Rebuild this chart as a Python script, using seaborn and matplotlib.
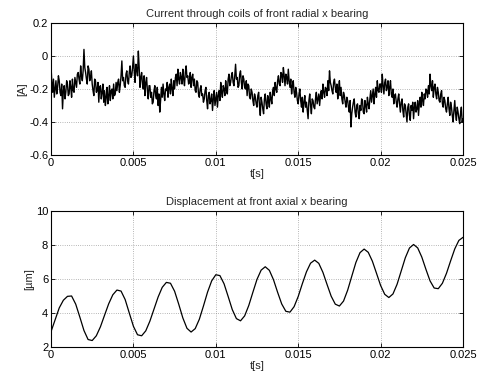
import numpy as np
import pandas as pd
import matplotlib
matplotlib.use("Agg")
import matplotlib.pyplot as plt
import seaborn as sns

# ---- data ----
t_end = 0.025
current_A = [
    -0.06, -0.16, -0.22, -0.14, -0.25, -0.20, -0.15, -0.23, -0.19, -0.12, -0.15, -0.22, -0.24, -0.17, -0.32, -0.21, -0.18, -0.26, -0.22, -0.15,
    -0.17, -0.24, -0.23, -0.15, -0.19, -0.25, -0.14, -0.21, -0.22, -0.13, -0.16, -0.19, -0.11, -0.10, -0.14, -0.17, -0.06, -0.12, -0.15, -0.09,
    0.04, -0.07, -0.10, -0.14, -0.17, -0.06, -0.08, -0.15, -0.13, -0.09, -0.17, -0.21, -0.24, -0.14, -0.15, -0.22, -0.21, -0.16, -0.28, -0.19,
    -0.18, -0.26, -0.22, -0.17, -0.28, -0.21, -0.30, -0.25, -0.19, -0.29, -0.24, -0.18, -0.27, -0.21, -0.20, -0.26, -0.17, -0.24, -0.23, -0.16,
    -0.21, -0.16, -0.14, -0.22, -0.18, -0.12, -0.03, -0.15, -0.13, -0.18, -0.19, -0.11, -0.09, -0.15, -0.17, -0.10, -0.06, -0.13, -0.12, -0.07,
    0.0, -0.09, -0.16, -0.05, -0.08, -0.12, 0.03, -0.07, -0.19, -0.13, -0.10, -0.17, -0.20, -0.12, -0.24, -0.16, -0.13, -0.21, -0.26, -0.18,
    -0.18, -0.25, -0.22, -0.29, -0.28, -0.21, -0.18, -0.24, -0.26, -0.19, -0.30, -0.23, -0.34, -0.27, -0.19, -0.25, -0.17, -0.23, -0.27, -0.20,
    -0.21, -0.16, -0.25, -0.19, -0.17, -0.23, -0.14, -0.20, -0.24, -0.15, -0.20, -0.13, -0.11, -0.18, -0.08, -0.14, -0.17, -0.10, -0.13, -0.17,
    -0.08, -0.14, -0.18, -0.10, -0.06, -0.13, -0.12, -0.17, -0.16, -0.10, -0.19, -0.13, -0.11, -0.18, -0.14, -0.21, -0.22, -0.15, -0.16, -0.23,
    -0.25, -0.20, -0.18, -0.24, -0.23, -0.28, -0.26, -0.21, -0.19, -0.27, -0.32, -0.24, -0.22, -0.29, -0.27, -0.23, -0.33, -0.26, -0.21, -0.30,
    -0.26, -0.22, -0.31, -0.24, -0.21, -0.27, -0.16, -0.22, -0.25, -0.18, -0.20, -0.24, -0.15, -0.21, -0.23, -0.14, -0.11, -0.18, -0.16, -0.12,
    -0.10, -0.16, -0.18, -0.12, -0.05, -0.14, -0.13, -0.19, -0.18, -0.11, -0.09, -0.16, -0.20, -0.12, -0.14, -0.19, -0.20, -0.15, -0.24, -0.17,
    -0.18, -0.25, -0.26, -0.20, -0.22, -0.27, -0.30, -0.23, -0.25, -0.29, -0.31, -0.24, -0.22, -0.30, -0.36, -0.25, -0.28, -0.32, -0.35, -0.26,
    -0.23, -0.29, -0.32, -0.24, -0.27, -0.31, -0.22, -0.26, -0.29, -0.21, -0.19, -0.24, -0.16, -0.20, -0.22, -0.15, -0.12, -0.17, -0.18, -0.10,
    -0.11, -0.16, -0.07, -0.12, -0.18, -0.11, -0.13, -0.17, -0.08, -0.15, -0.19, -0.14, -0.23, -0.18, -0.15, -0.22, -0.25, -0.19, -0.22, -0.27,
    -0.29, -0.23, -0.20, -0.27, -0.31, -0.25, -0.34, -0.28, -0.24, -0.31, -0.28, -0.33, -0.38, -0.27, -0.23, -0.30, -0.35, -0.26, -0.27, -0.31,
    -0.32, -0.26, -0.22, -0.29, -0.26, -0.23, -0.30, -0.24, -0.21, -0.26, -0.17, -0.22, -0.25, -0.19, -0.20, -0.24, -0.15, -0.21, -0.09, -0.16,
    -0.18, -0.21, -0.23, -0.16, -0.14, -0.19, -0.22, -0.17, -0.26, -0.20, -0.15, -0.24, -0.19, -0.26, -0.29, -0.22, -0.24, -0.28, -0.31, -0.25,
    -0.27, -0.31, -0.34, -0.27, -0.43, -0.35, -0.31, -0.28, -0.26, -0.34, -0.37, -0.30, -0.29, -0.35, -0.38, -0.30, -0.33, -0.26, -0.27, -0.34,
    -0.35, -0.27, -0.30, -0.34, -0.25, -0.29, -0.32, -0.26, -0.21, -0.28, -0.24, -0.20, -0.29, -0.23, -0.19, -0.25, -0.15, -0.21, -0.22, -0.17,
    -0.17, -0.22, -0.11, -0.18, -0.23, -0.16, -0.14, -0.21, -0.19, -0.15, -0.24, -0.19, -0.15, -0.23, -0.25, -0.20, -0.29, -0.24, -0.23, -0.28,
    -0.31, -0.26, -0.23, -0.29, -0.34, -0.28, -0.26, -0.33, -0.37, -0.29, -0.30, -0.35, -0.40, -0.31, -0.29, -0.36, -0.39, -0.30, -0.33, -0.28,
    -0.38, -0.31, -0.28, -0.34, -0.32, -0.27, -0.36, -0.29, -0.25, -0.31, -0.22, -0.27, -0.30, -0.23, -0.26, -0.20, -0.21, -0.25, -0.18, -0.23,
    -0.11, -0.18, -0.21, -0.15, -0.25, -0.19, -0.17, -0.23, -0.26, -0.19, -0.22, -0.27, -0.28, -0.23, -0.21, -0.29, -0.31, -0.25, -0.27, -0.32,
    -0.34, -0.29, -0.25, -0.32, -0.36, -0.28, -0.31, -0.36, -0.40, -0.33, -0.27, -0.35, -0.39, -0.31, -0.34, -0.38, -0.41, -0.35, -0.31, -0.40, -0.38,
]
displacement_um = [
    2.9, 3.6, 4.3, 4.75, 4.98, 5.0, 4.52, 3.76, 2.97, 2.44,
    2.38, 2.66, 3.19, 3.87, 4.54, 5.07, 5.35, 5.29, 4.79, 4.0,
    3.22, 2.72, 2.66, 2.95, 3.52, 4.23, 4.94, 5.51, 5.80, 5.75,
    5.28, 4.52, 3.71, 3.10, 2.88, 3.08, 3.63, 4.41, 5.23, 5.89,
    6.25, 6.2, 5.72, 4.97, 4.2, 3.67, 3.54, 3.83, 4.44, 5.22,
    5.98, 6.52, 6.72, 6.51, 5.96, 5.22, 4.53, 4.10, 4.05, 4.37,
    4.97, 5.72, 6.42, 6.93, 7.11, 6.92, 6.39, 5.68, 4.99, 4.52,
    4.41, 4.70, 5.34, 6.16, 6.97, 7.55, 7.76, 7.57, 7.05, 6.34,
    5.62, 5.10, 4.91, 5.12, 5.69, 6.47, 7.25, 7.82, 8.03, 7.83,
    7.29, 6.57, 5.89, 5.47, 5.43, 5.75, 6.34, 7.07, 7.77, 8.27, 8.45,
]
x_ticks = [0, 0.005, 0.01, 0.015, 0.02, 0.025]
x_ticklabels = ["0", "0.005", "0.01", "0.015", "0.02", "0.025"]
top_yticks = [0.2, 0, -0.2, -0.4, -0.6]
top_yticklabels = ["0.2", "0", "-0.2", "-0.4", "-0.6"]
bot_yticks = [2, 4, 6, 8, 10]
bot_yticklabels = ["2", "4", "6", "8", "10"]
title_top = "Current through coils of front radial x bearing"
title_bot = "Displacement at front axial x bearing"

df_top = pd.DataFrame({"t": np.linspace(0, t_end, len(current_A)), "v": current_A})
df_bot = pd.DataFrame({"t": np.linspace(0, t_end, len(displacement_um)), "v": displacement_um})

sns.set_style("ticks")
plt.rcParams["font.family"] = ["Liberation Sans", "DejaVu Sans"]
plt.rcParams["axes.unicode_minus"] = False
FS = 8

fig = plt.figure(figsize=(4.79, 3.78), dpi=100)
ax1 = fig.add_axes([51/479, 1-155/378, 412/479, 132/378])
ax2 = fig.add_axes([51/479, 1-347/378, 412/479, 136/378])

def style(ax, yticks, yticklabels, ylim, ylabel, title):
    ax.set_xlim(0, t_end)
    ax.set_ylim(*ylim)
    ax.set_xticks(x_ticks)
    ax.set_xticklabels(x_ticklabels, fontsize=FS)
    ax.set_yticks(yticks)
    ax.set_yticklabels(yticklabels, fontsize=FS)
    ax.tick_params(direction="in", top=True, right=True, length=3, width=0.6,
                   pad=2, colors="black")
    ax.grid(True, linestyle=(0, (1, 2.2)), color="#777777", linewidth=0.5)
    for s in ax.spines.values():
        s.set_visible(True)
        s.set_linewidth(0.8)
        s.set_color("black")
    ax.set_xlabel("t[s]", fontsize=FS, labelpad=1)
    ax.set_ylabel(ylabel, fontsize=FS, labelpad=1)
    ax.set_title(title, fontsize=FS, pad=4)

sns.lineplot(data=df_top, x="t", y="v", ax=ax1, color="black", linewidth=1.0)
sns.lineplot(data=df_bot, x="t", y="v", ax=ax2, color="black", linewidth=0.9)
style(ax1, top_yticks, top_yticklabels, (-0.6, 0.2), "[A]", title_top)
style(ax2, bot_yticks, bot_yticklabels, (2, 10), "[µm]", title_bot)

fig.savefig("out.png", dpi=100)
